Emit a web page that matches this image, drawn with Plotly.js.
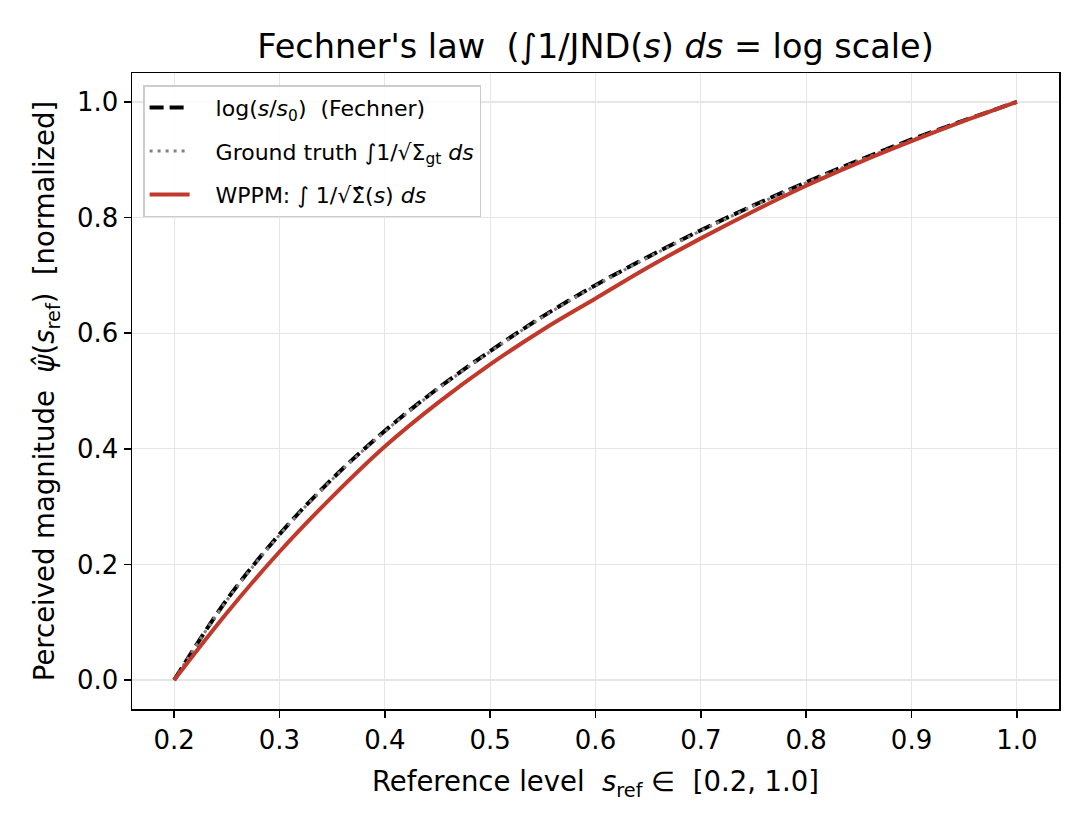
<!DOCTYPE html>
<html>
<head>
<meta charset="utf-8">
<script src="https://cdn.plot.ly/plotly-3.0.1.min.js"></script>
<style>body{margin:0;padding:0;background:#fff;} #chart{width:1080px;height:819px;}</style>
</head>
<body>
<div id="chart"></div>
<script>
// Reference levels
const sRef = [0.2, 0.25, 0.3, 0.35, 0.4, 0.45, 0.5, 0.55, 0.6, 0.65, 0.7, 0.75, 0.8, 0.85, 0.9, 0.95, 1.0];
// log(s/s0) (Fechner), normalized
const fechner = [0.0, 0.139, 0.252, 0.348, 0.431, 0.504, 0.569, 0.629, 0.683, 0.732, 0.778, 0.821, 0.861, 0.899, 0.935, 0.968, 1.0];
// Ground truth integral of 1/sqrt(Sigma_gt)
const groundTruth = [0.0, 0.138, 0.251, 0.347, 0.430, 0.503, 0.568, 0.628, 0.682, 0.731, 0.777, 0.820, 0.860, 0.898, 0.934, 0.968, 1.0];
// WPPM estimate
const wppm = [0.0, 0.116, 0.222, 0.317, 0.404, 0.479, 0.546, 0.606, 0.660, 0.714, 0.764, 0.811, 0.855, 0.895, 0.932, 0.967, 1.0];

const FONT = "DejaVu Sans, sans-serif";
const PAD = "\u00a0\u00a0\u00a0";

const traces = [
  {x: sRef, y: fechner, mode: 'lines', type: 'scatter', legendgroup: 'a',
   name: PAD + 'log(<i>s</i>/<i>s</i><sub>0</sub>)  (Fechner)',
   line: {color: '#000000', width: 4, dash: '14px,6px', shape: 'spline'}},
  {x: sRef, y: groundTruth, mode: 'lines', type: 'scatter', legendgroup: 'b',
   name: PAD + 'Ground truth ∫1/√Σ<sub>gt</sub> <i>ds</i>',
   line: {color: '#808080', width: 3, dash: '3px,5px', shape: 'spline'}},
  {x: sRef, y: wppm, mode: 'lines', type: 'scatter', legendgroup: 'c',
   name: PAD + 'WPPM: ∫ 1/√Σ̂(<i>s</i>) <i>ds</i>',
   line: {color: '#c0392b', width: 4, shape: 'spline'}}
];

const axisCommon = {
  showline: true, linecolor: '#000', linewidth: 1.5, mirror: true,
  ticks: 'outside', ticklen: 7, tickwidth: 1.5, tickcolor: '#000',
  showgrid: true, gridcolor: '#e6e6e6', gridwidth: 1.2, zeroline: false,
  automargin: false,
  tickfont: {family: FONT, size: 26, color: '#000'}
};

const layout = {
  width: 1080, height: 819,
  paper_bgcolor: '#fff', plot_bgcolor: '#fff',
  margin: {l: 132, r: 21, t: 73, b: 110},
  font: {family: FONT, color: '#000'},
  title: {text: "Fechner's law  (∫1/JND(<i>s</i>) <i>ds</i> = log scale)",
          font: {family: FONT, size: 33.5, color: '#000'},
          x: 0.5, xref: 'paper', xanchor: 'center', y: 0.943, yanchor: 'middle', yref: 'container'},
  xaxis: Object.assign({}, axisCommon, {
    range: [0.16, 1.04], tickvals: [0.2,0.3,0.4,0.5,0.6,0.7,0.8,0.9,1.0],
    ticktext: ['0.2','0.3','0.4','0.5','0.6','0.7','0.8','0.9','1.0'],
    title: {text: 'Reference level  <i>s</i><sub>ref</sub> ∈  [0.2, 1.0]', font: {family: FONT, size: 27.5}, standoff: 18}
  }),
  yaxis: Object.assign({}, axisCommon, {
    range: [-0.05, 1.05], tickvals: [0,0.2,0.4,0.6,0.8,1.0],
    ticktext: ['0.0','0.2','0.4','0.6','0.8','1.0'],
    title: {text: 'Perceived magnitude  <i>ψ̂</i>(<i>s</i><sub>ref</sub>)  [normalized]', font: {family: FONT, size: 27.5}, standoff: 14}
  }),
  showlegend: true,
  legend: {x: 0.012, y: 0.981, xanchor: 'left', yanchor: 'top',
           bgcolor: 'rgba(255,255,255,0.85)', bordercolor: '#cccccc', borderwidth: 1.5,
           font: {family: FONT, size: 22, color: '#000'}, tracegroupgap: 12,
           itemwidth: 40}
};

Plotly.newPlot('chart', traces, layout, {displayModeBar: false, staticPlot: true});
</script>
</body>
</html>
